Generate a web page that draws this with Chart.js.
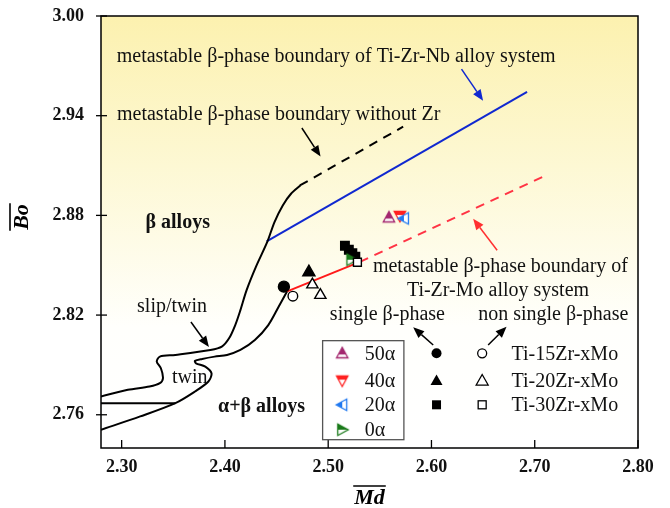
<!DOCTYPE html>
<html><head><meta charset="utf-8">
<script src="https://cdn.jsdelivr.net/npm/chart.js@4.4.1/dist/chart.umd.min.js"></script>
<style>html,body{margin:0;padding:0;background:#fff}#wrap{width:670px;height:508px;position:relative}</style>
</head><body><div id="wrap"><canvas id="c" width="670" height="508"></canvas></div>
<script>
const FONT = '"Liberation Serif","Times New Roman",serif';

// ---- axes ----
const xTickValues = [2.30, 2.40, 2.50, 2.60, 2.70, 2.80];
const yTickValues = [2.76, 2.82, 2.88, 2.94, 3.00];
const xRange = [2.28, 2.80];
const yRange = [2.74, 3.00];

// ---- boundary curves ----
const upperX = [2.280,2.306,2.327,2.337,2.340,2.338,2.334,2.337,2.352,2.386,2.397,2.404,2.410,2.415,2.421,2.430,2.441,2.448,2.456,2.464,2.473];
const upperY = [2.771,2.775,2.777,2.779,2.782,2.788,2.792,2.795,2.796,2.799,2.801,2.806,2.814,2.823,2.835,2.849,2.864,2.876,2.886,2.893,2.898];
const lowerX = [2.280,2.318,2.352,2.371,2.384,2.387,2.381,2.372,2.371,2.378,2.390,2.402,2.415,2.429,2.442,2.452,2.460];
const lowerY = [2.751,2.759,2.767,2.774,2.780,2.785,2.789,2.791,2.7924,2.7936,2.795,2.796,2.799,2.805,2.814,2.825,2.834];
const twinBaseX = [2.280, 2.352];
const twinBaseY = [2.767, 2.767];
const noZrX = [2.4726, 2.5726];
const noZrY = [2.898, 2.9334];
const nbX = [2.4404, 2.6926];
const nbY = [2.8644, 2.9544];
const moSolidX = [2.4597, 2.5307];
const moSolidY = [2.8341, 2.8520];
const moDashX = [2.5307, 2.7127];
const moDashY = [2.8520, 2.9046];

// ---- measured alloys ----
const zr15SingleX = [2.4571], zr15SingleY = [2.8371];
const zr15NonX = [2.4658], zr15NonY = [2.8314];
const zr20SingleX = [2.4813], zr20SingleY = [2.8458];
const zr20NonX = [2.4847, 2.4924], zr20NonY = [2.8383, 2.8320];
const zr30SingleX = [2.5162, 2.5200, 2.5234, 2.5263], zr30SingleY = [2.8617, 2.8593, 2.8572, 2.8551];
const zr30NonX = [2.5283], zr30NonY = [2.8518];
const a50X = [2.5588], a50Y = [2.8788];
const a40X = [2.5694], a40Y = [2.8797];
const a20X = [2.5733], a20Y = [2.8782];
const a0X = [2.5225], a0Y = [2.8533];

const zip = (xs, ys) => xs.map((x, i) => ({x, y: ys[i]}));

// ---- annotations ----
const texts = [
  {t:'metastable β-phase boundary of Ti-Zr-Nb alloy system', x:2.2952, y:2.9724},
  {t:'metastable β-phase boundary without Zr', x:2.2955, y:2.9376},
  {t:'β alloys', x:2.3855, y:2.8722, bold:true, align:'right'},
  {t:'slip/twin', x:2.3149, y:2.8218},
  {t:'twin', x:2.3487, y:2.7792},
  {t:'α+β alloys', x:2.3933, y:2.7618, bold:true},
  {t:'metastable β-phase boundary of', x:2.5433, y:2.8458},
  {t:'Ti-Zr-Mo alloy system', x:2.5762, y:2.8314},
  {t:'single β-phase', x:2.5016, y:2.8170},
  {t:'non single β-phase', x:2.6452, y:2.8170}
];
const arrows = [
  {x1:2.4745, y1:2.9326, x2:2.4926, y2:2.9154, c:'#000'},
  {x1:2.6291, y1:2.9680, x2:2.6500, y2:2.9490, c:'#1028d0'},
  {x1:2.6636, y1:2.8590, x2:2.6404, y2:2.8780, c:'#ff3030'},
  {x1:2.3671, y1:2.8158, x2:2.3845, y2:2.8008, c:'#000'},
  {x1:2.6017, y1:2.8020, x2:2.5823, y2:2.8126, c:'#000'},
  {x1:2.6549, y1:2.8020, x2:2.6727, y2:2.8130, c:'#000'}
];
const legendLeft = ['50α', '40α', '20α', '0α'];
const legendRight = ['Ti-15Zr-xMo', 'Ti-20Zr-xMo', 'Ti-30Zr-xMo'];

// half-filled markers
function halfMarker(dir, color, size) {
  const S = Math.ceil(size + 4), c = document.createElement('canvas');
  c.width = S; c.height = S;
  const g = c.getContext('2d'), h = S / 2, r = size / 2;
  let p;
  if (dir === 'up') p = [[h, h - r], [h + r * 0.95, h + r * 0.75], [h - r * 0.95, h + r * 0.75]];
  if (dir === 'down') p = [[h, h + r], [h + r * 0.95, h - r * 0.75], [h - r * 0.95, h - r * 0.75]];
  if (dir === 'left') p = [[h - r, h], [h + r * 0.75, h - r * 0.95], [h + r * 0.75, h + r * 0.95]];
  if (dir === 'right') p = [[h + r, h], [h - r * 0.75, h - r * 0.95], [h - r * 0.75, h + r * 0.95]];
  const path = () => { g.beginPath(); g.moveTo(p[0][0], p[0][1]); g.lineTo(p[1][0], p[1][1]); g.lineTo(p[2][0], p[2][1]); g.closePath(); };
  path(); g.fillStyle = '#fff'; g.fill();
  g.save(); path(); g.clip(); g.fillStyle = color;
  if (dir === 'up') g.fillRect(0, 0, S, h + r * 0.2);
  if (dir === 'down') g.fillRect(0, 0, S, h - r * 0.15);
  if (dir === 'left') g.fillRect(0, 0, h, S);
  if (dir === 'right') g.fillRect(0, 0, S, h);
  g.restore();
  path(); g.strokeStyle = color; g.lineWidth = 1.3; g.lineJoin = 'miter'; g.stroke();
  return c;
}
const C50 = '#a3266e', C40 = '#ff2020', C20 = '#1f78f0', C0 = '#1a7a1a';
const m50 = halfMarker('up', C50, 12), m40 = halfMarker('down', C40, 12), m20 = halfMarker('left', C20, 12), m0 = halfMarker('right', C0, 12);

const lineDS = (data, color, dash, tension, order) => ({type:'scatter', data, showLine:true, borderColor:color, borderWidth:2, borderDash:dash||[], pointRadius:0, tension:tension||0, fill:false, order:order||20});
const ptDS = (data, style, r, fill, border, order, bw) => ({type:'scatter', data, pointStyle:style, pointRadius:r, pointHoverRadius:r, backgroundColor:fill, borderColor:border, pointBorderWidth:bw===undefined?1.4:bw, order});

const bgPlugin = {
  id:'bg',
  beforeDraw(chart) {
    const {ctx, chartArea:a} = chart;
    const gr = ctx.createLinearGradient(0, a.top, 0, a.bottom);
    gr.addColorStop(0, 'rgb(252,241,175)');
    gr.addColorStop(0.35, 'rgb(253,248,212)');
    gr.addColorStop(0.72, 'rgb(255,255,252)');
    gr.addColorStop(1, 'rgb(255,255,255)');
    ctx.save(); ctx.fillStyle = gr; ctx.fillRect(a.left, a.top, a.right - a.left, a.bottom - a.top); ctx.restore();
  }
};

function arrow(ctx, x1, y1, x2, y2, c) {
  const ang = Math.atan2(y2 - y1, x2 - x1), L = 11, W = 4.5;
  const bx = x2 - L * Math.cos(ang), by = y2 - L * Math.sin(ang);
  ctx.strokeStyle = c; ctx.fillStyle = c; ctx.lineWidth = 1.5;
  ctx.beginPath(); ctx.moveTo(x1, y1); ctx.lineTo(bx, by); ctx.stroke();
  ctx.beginPath(); ctx.moveTo(x2, y2);
  ctx.lineTo(bx + W * Math.sin(ang), by - W * Math.cos(ang));
  ctx.lineTo(bx - W * Math.sin(ang), by + W * Math.cos(ang));
  ctx.closePath(); ctx.fill();
}

const annoPlugin = {
  id:'anno',
  afterDraw(chart) {
    const {ctx, chartArea:a, scales:{x, y}} = chart;
    const X = v => x.getPixelForValue(v), Y = v => y.getPixelForValue(v);
    ctx.save();
    ctx.strokeStyle = '#000'; ctx.lineWidth = 1.5;
    ctx.strokeRect(a.left, a.top, a.right - a.left, a.bottom - a.top);
    ctx.lineWidth = 1.3;
    xTickValues.forEach(v => { const px = X(v); ctx.beginPath(); ctx.moveTo(px, a.bottom); ctx.lineTo(px, a.bottom - 8); ctx.stroke(); });
    yTickValues.forEach(v => { const py = Y(v); ctx.beginPath(); ctx.moveTo(a.left - 5, py); ctx.lineTo(a.left + 6, py); ctx.stroke(); });
    ctx.fillStyle = '#111'; ctx.textBaseline = 'alphabetic';
    texts.forEach(o => {
      ctx.font = (o.bold ? 'bold ' : '') + '20px ' + FONT;
      ctx.textAlign = o.align || 'left';
      ctx.fillText(o.t, X(o.x), Y(o.y));
    });
    arrows.forEach(o => arrow(ctx, X(o.x1), Y(o.y1), X(o.x2), Y(o.y2), o.c));
    const bx1 = X(2.4946), bx2 = X(2.5733), by1 = Y(2.8046), by2 = Y(2.745);
    ctx.fillStyle = '#fff'; ctx.fillRect(bx1, by1, bx2 - bx1, by2 - by1);
    ctx.strokeStyle = '#555'; ctx.lineWidth = 1.3; ctx.strokeRect(bx1, by1, bx2 - bx1, by2 - by1);
    const rows = [2.797, 2.7806, 2.766, 2.751];
    const mk = [m50, m40, m20, m0];
    ctx.font = '20px ' + FONT; ctx.textAlign = 'left'; ctx.textBaseline = 'middle'; ctx.fillStyle = '#111';
    rows.forEach((r, i) => {
      const py = Y(r);
      ctx.drawImage(mk[i], X(2.5136) - mk[i].width / 2, py - mk[i].height / 2);
      ctx.fillText(legendLeft[i], X(2.5355), py + 1);
    });
    const fx = X(2.6049), ox = X(2.6491);
    legendRight.forEach((t, i) => {
      const py = Y(rows[i]);
      ctx.fillStyle = '#000'; ctx.strokeStyle = '#000'; ctx.lineWidth = 1.3;
      if (i === 0) {
        ctx.beginPath(); ctx.arc(fx, py, 5, 0, Math.PI * 2); ctx.fill();
        ctx.beginPath(); ctx.arc(ox, py, 4.5, 0, Math.PI * 2); ctx.fillStyle = '#fff'; ctx.fill(); ctx.stroke();
      } else if (i === 1) {
        const tri = (cx, fill) => { ctx.beginPath(); ctx.moveTo(cx, py - 6); ctx.lineTo(cx + 6, py + 4.5); ctx.lineTo(cx - 6, py + 4.5); ctx.closePath(); if (fill) { ctx.fillStyle = '#000'; ctx.fill(); } else { ctx.fillStyle = '#fff'; ctx.fill(); ctx.stroke(); } };
        tri(fx, true); tri(ox, false);
      } else {
        ctx.fillRect(fx - 4.5, py - 4.5, 9, 9);
        ctx.fillStyle = '#fff'; ctx.fillRect(ox - 4, py - 4, 8, 8); ctx.strokeRect(ox - 4, py - 4, 8, 8);
      }
      ctx.fillStyle = '#111'; ctx.fillText(t, X(2.6775), py + 1);
    });
    ctx.fillStyle = '#000'; ctx.strokeStyle = '#000'; ctx.lineWidth = 1.6;
    ctx.font = 'bold italic 22px ' + FONT; ctx.textAlign = 'center'; ctx.textBaseline = 'alphabetic';
    const mx = (a.left + a.right) / 2, my = 504;
    ctx.fillText('Md', mx, my);
    const mw = ctx.measureText('Md').width;
    ctx.beginPath(); ctx.moveTo(mx - mw / 2 - 1, my - 18); ctx.lineTo(mx + mw / 2 + 1, my - 18); ctx.stroke();
    ctx.save();
    ctx.translate(28, 217); ctx.rotate(-Math.PI / 2);
    ctx.fillText('Bo', 0, 0);
    const bw = ctx.measureText('Bo').width;
    ctx.beginPath(); ctx.moveTo(-bw / 2 - 1, -18); ctx.lineTo(bw / 2 + 1, -18); ctx.stroke();
    ctx.restore();
    ctx.restore();
  }
};

new Chart(document.getElementById('c'), {
  type:'scatter',
  data:{datasets:[
    lineDS(zip(upperX, upperY), '#000', null, 0.3),
    lineDS(zip(lowerX, lowerY), '#000', null, 0.3),
    lineDS(zip(twinBaseX, twinBaseY), '#000'),
    lineDS(zip(noZrX, noZrY), '#000', [9, 7]),
    lineDS(zip(nbX, nbY), '#1028d0'),
    lineDS(zip(moSolidX, moSolidY), '#ff1a1a'),
    lineDS(zip(moDashX, moDashY), '#ff3344', [9, 7]),
    ptDS(zip(zr15SingleX, zr15SingleY), 'circle', 5.5, '#000', '#000', 5),
    ptDS(zip(zr15NonX, zr15NonY), 'circle', 4.8, '#fff', '#000', 5),
    ptDS(zip(zr20SingleX, zr20SingleY), 'triangle', 7, '#000', '#000', 5),
    ptDS(zip(zr20NonX, zr20NonY), 'triangle', 6.5, '#fff', '#000', 5),
    ptDS(zip(zr30SingleX, zr30SingleY), 'rect', 6, '#000', '#000', 6),
    ptDS(zip(zr30NonX, zr30NonY), 'rect', 5.6, '#fff', '#000', 3),
    ptDS(zip(a0X, a0Y), m0, 7, C0, C0, 4, 0),
    ptDS(zip(a50X, a50Y), m50, 7, C50, C50, 4, 0),
    ptDS(zip(a40X, a40Y), m40, 7, C40, C40, 3, 0),
    ptDS(zip(a20X, a20Y), m20, 7, C20, C20, 2, 0)
  ]},
  options:{
    responsive:false, animation:false, devicePixelRatio:1,
    layout:{padding:{top:16, right:32, left:0, bottom:0}},
    plugins:{legend:{display:false}, tooltip:{enabled:false}},
    scales:{
      x:{type:'linear', min:xRange[0], max:xRange[1],
        afterBuildTicks:s => { s.ticks = xTickValues.map(v => ({value:v})); },
        afterFit:s => { s.height = 60; s.paddingLeft = 0; s.paddingRight = 0; },
        ticks:{callback:v => Number(v).toFixed(2), font:{family:FONT, size:18, weight:'bold'}, color:'#111', padding:9, maxRotation:0, autoSkip:false},
        grid:{display:false, drawTicks:false}, border:{display:false}},
      y:{type:'linear', min:yRange[0], max:yRange[1],
        afterBuildTicks:s => { s.ticks = yTickValues.map(v => ({value:v})); },
        afterFit:s => { s.width = 101; s.paddingTop = 0; s.paddingBottom = 0; },
        ticks:{callback:v => Number(v).toFixed(2), font:{family:FONT, size:18, weight:'bold'}, color:'#111', padding:17, autoSkip:false},
        grid:{display:false, drawTicks:false}, border:{display:false}}
    }
  },
  plugins:[bgPlugin, annoPlugin]
});
</script></body></html>
